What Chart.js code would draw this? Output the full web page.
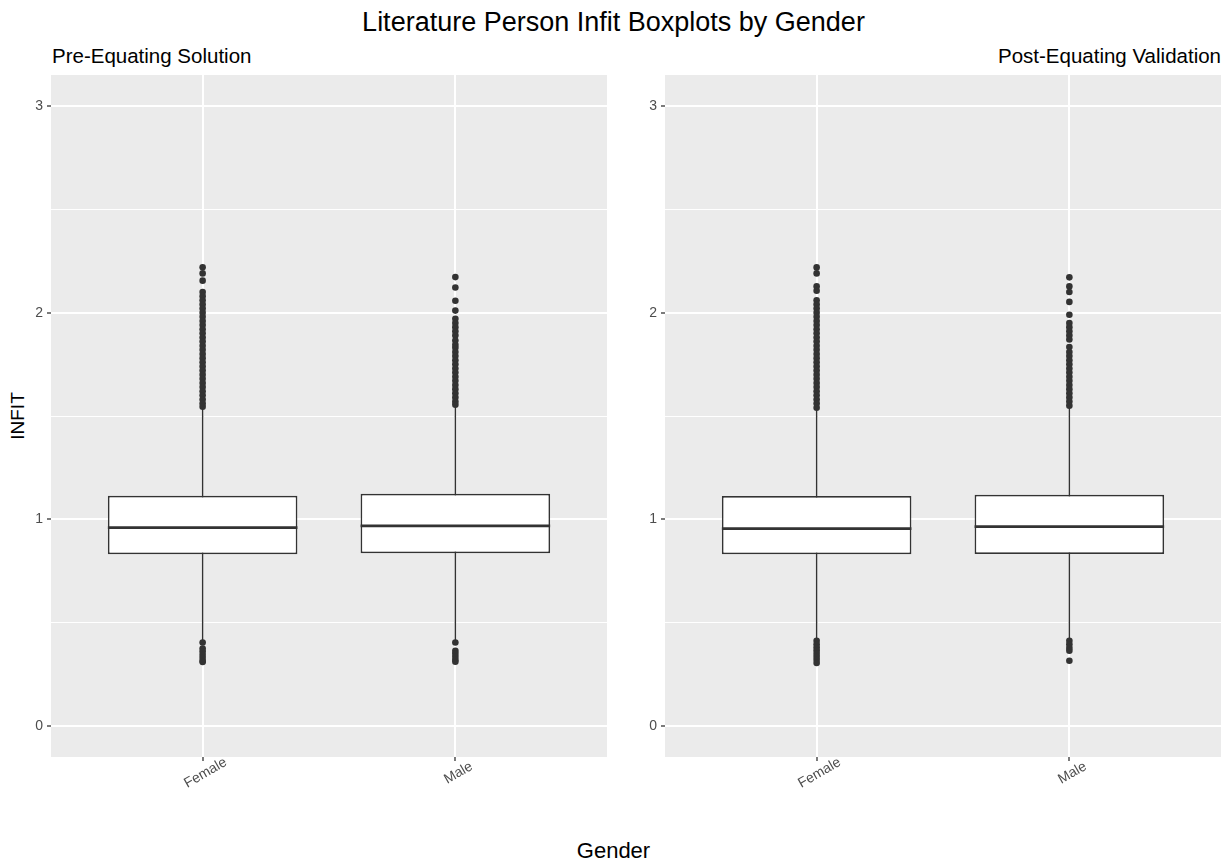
<!DOCTYPE html>
<html>
<head>
<meta charset="utf-8">
<script src="https://cdn.jsdelivr.net/npm/chart.js@4.4.1/dist/chart.umd.min.js"></script>
<style>
    html, body { margin: 0; padding: 0; background: #FFFFFF; }
    body { width: 1227px; height: 867px; position: relative; overflow: hidden; font-family: 'Liberation Sans', Arial, sans-serif; }
    .txt { position: absolute; white-space: nowrap; line-height: 1; color: #000000; }
    #main-title { top: 9px; left: 0; width: 1227px; text-align: center; font-size: 27px; }
    #sub-left { top: 46px; left: 52px; font-size: 20.5px; }
    #sub-right { top: 46px; right: 6px; font-size: 20.5px; }
    #y-title { left: 17px; top: 416px; font-size: 19px; transform: translate(-50%, -50%) rotate(-90deg); }
    #x-title { top: 840px; left: 0; width: 1227px; text-align: center; font-size: 22px; }
    .panel { position: absolute; top: 65px; }
</style>
</head>
<body>
<div class="txt" id="main-title">Literature Person Infit Boxplots by Gender</div>
<div class="txt" id="sub-left"></div>
<div class="txt" id="sub-right"></div>
<div class="txt" id="y-title">INFIT</div>
<div class="txt" id="x-title">Gender</div>
<canvas class="panel" id="panel-pre" width="612" height="745" style="left:0px"></canvas>
<canvas class="panel" id="panel-post" width="612" height="745" style="left:614px"></canvas>

<script>
// Data
const categories = ['Female', 'Male'];
const panelTitles = ['Pre-Equating Solution', 'Post-Equating Validation'];
const yTickLabels = [0, 1, 2, 3];

// Pre-Equating Solution
const preQ1 = [0.831, 0.836];
const preMedian = [0.960, 0.968];
const preQ3 = [1.114, 1.124];
const preWhiskerLow = [0.415, 0.415];
const preWhiskerHigh = [1.535, 1.547];
const preOutliersFemale = [2.22, 2.19, 2.155, 2.10, 2.08, 2.06, 2.04, 2.02, 2.00, 1.98, 1.96, 1.94, 1.92, 1.90,
    1.88, 1.86, 1.84, 1.82, 1.80, 1.78, 1.76, 1.74, 1.72, 1.70, 1.68, 1.66, 1.64, 1.62, 1.60, 1.58, 1.56, 1.545,
    0.404, 0.375, 0.36, 0.345, 0.33, 0.315, 0.31];
const preOutliersMale = [2.172, 2.122, 2.058, 2.010, 1.97, 1.95, 1.93, 1.91, 1.89, 1.865, 1.845, 1.83, 1.81,
    1.79, 1.77, 1.75, 1.73, 1.71, 1.69, 1.67, 1.65, 1.63, 1.61, 1.59, 1.57, 1.555,
    0.404, 0.364, 0.35, 0.335, 0.32, 0.311];

// Post-Equating Validation
const postQ1 = [0.831, 0.832];
const postMedian = [0.955, 0.965];
const postQ3 = [1.113, 1.119];
const postWhiskerLow = [0.42, 0.42];
const postWhiskerHigh = [1.53, 1.54];
const postOutliersFemale = [2.219, 2.19, 2.127, 2.106, 2.06, 2.04, 2.02, 2.00, 1.98, 1.96, 1.94, 1.92, 1.90,
    1.88, 1.86, 1.84, 1.82, 1.80, 1.78, 1.76, 1.74, 1.72, 1.70, 1.68, 1.66, 1.64, 1.62, 1.60, 1.58, 1.56, 1.54,
    0.412, 0.395, 0.38, 0.365, 0.35, 0.335, 0.32, 0.305];
const postOutliersMale = [2.171, 2.127, 2.100, 2.052, 1.990, 1.95, 1.93, 1.91, 1.89, 1.87,
    1.834, 1.81, 1.79, 1.77, 1.75, 1.73, 1.71, 1.69, 1.67, 1.65, 1.63, 1.61, 1.59, 1.57, 1.55,
    0.412, 0.395, 0.378, 0.364, 0.316];

const BOX_WIDTH = 0.75;          // ggplot default box width (category units)
const INK = '#333333';
const FONT = 'Liberation Sans';

document.getElementById('sub-left').textContent = panelTitles[0];
document.getElementById('sub-right').textContent = panelTitles[1];

// Grey panel background under the grid
const panelBackground = {
    id: 'panelBackground',
    beforeDraw(chart) {
        const { ctx, chartArea } = chart;
        ctx.save();
        ctx.fillStyle = '#EBEBEB';
        ctx.fillRect(chartArea.left, chartArea.top, chartArea.right - chartArea.left, chartArea.bottom - chartArea.top);
        ctx.restore();
    }
};

// Rotated (30 deg) category labels, centred on their tick like ggplot
const rotatedLabels = {
    id: 'rotatedLabels',
    afterDraw(chart) {
        const { ctx, chartArea } = chart;
        const xScale = chart.scales.x;
        ctx.save();
        ctx.fillStyle = '#4D4D4D';
        ctx.font = `14px "${FONT}"`;
        ctx.textAlign = 'center';
        ctx.textBaseline = 'middle';
        xScale.ticks.forEach(tick => {
            const label = categories[tick.value - 1];
            if (!label) return;
            const px = xScale.getPixelForValue(tick.value);
            ctx.save();
            ctx.translate(px + 3, chartArea.bottom + 16);
            ctx.rotate(-Math.PI / 6);
            ctx.fillText(label, 0, 0);
            ctx.restore();
        });
        ctx.restore();
    }
};

function buildPanel(canvasId, q1, median, q3, lo, hi, outliers) {
    const whiskers = [];
    const medians = [];
    const boxes = [];
    const points = [];
    categories.forEach((c, i) => {
        const x = i + 1;
        whiskers.push({ x: x, y: lo[i] }, { x: x, y: hi[i] }, { x: x + 0.5, y: null });
        medians.push({ x: x - BOX_WIDTH / 2, y: median[i] }, { x: x + BOX_WIDTH / 2, y: median[i] }, { x: x + 0.5, y: null });
        boxes.push({ x: x, y: [q1[i], q3[i]] });
        outliers[i].forEach(v => points.push({ x: x, y: v }));
    });

    const ctx = document.getElementById(canvasId).getContext('2d');
    return new Chart(ctx, {
        type: 'bar',
        data: {
            datasets: [
                {
                    type: 'line',
                    data: whiskers,
                    borderColor: INK,
                    borderWidth: 1.4,
                    pointRadius: 0,
                    spanGaps: false,
                    order: 3
                },
                {
                    type: 'bar',
                    data: boxes,
                    backgroundColor: '#FFFFFF',
                    borderColor: INK,
                    borderWidth: 1.7,
                    borderSkipped: false,
                    grouped: false,
                    categoryPercentage: 1,
                    barPercentage: BOX_WIDTH,
                    order: 2
                },
                {
                    type: 'line',
                    data: medians,
                    borderColor: INK,
                    borderWidth: 2.8,
                    pointRadius: 0,
                    spanGaps: false,
                    order: 1
                },
                {
                    type: 'scatter',
                    data: points,
                    pointRadius: 3.3,
                    pointBackgroundColor: INK,
                    pointBorderWidth: 0,
                    order: 0
                }
            ]
        },
        options: {
            responsive: false,
            animation: false,
            events: [],
            layout: { padding: { top: 10, right: 5, left: 0, bottom: 0 } },
            plugins: {
                legend: { display: false },
                tooltip: { enabled: false }
            },
            scales: {
                x: {
                    type: 'linear',
                    min: 0.4,
                    max: 2.6,
                    offset: false,
                    border: { display: false },
                    grid: {
                        offset: false,
                        color: '#FFFFFF',
                        lineWidth: 2,
                        drawTicks: true,
                        tickLength: 4,
                        tickColor: INK,
                        tickWidth: 1.3
                    },
                    ticks: { stepSize: 1, includeBounds: false, display: false },
                    afterFit: s => { s.height = 53; s.paddingLeft = 0; s.paddingRight = 0; }
                },
                y: {
                    type: 'linear',
                    min: -0.15,
                    max: 3.15,
                    border: { display: false },
                    grid: {
                        color: '#FFFFFF',
                        lineWidth: c => yTickLabels.includes(c.tick.value) ? 2 : 1,
                        drawTicks: true,
                        tickLength: 4,
                        tickColor: c => yTickLabels.includes(c.tick.value) ? INK : 'rgba(0,0,0,0)',
                        tickWidth: 1.3
                    },
                    ticks: {
                        stepSize: 0.5,
                        includeBounds: false,
                        padding: 4,
                        color: '#4D4D4D',
                        font: { family: FONT, size: 14 },
                        callback: v => yTickLabels.includes(v) ? String(v) : ''
                    },
                    afterFit: s => { s.width = 51; s.paddingTop = 0; s.paddingBottom = 0; }
                }
            }
        },
        plugins: [panelBackground, rotatedLabels]
    });
}

document.addEventListener('DOMContentLoaded', () => {
    buildPanel('panel-pre', preQ1, preMedian, preQ3, preWhiskerLow, preWhiskerHigh,
        [preOutliersFemale, preOutliersMale]);
    buildPanel('panel-post', postQ1, postMedian, postQ3, postWhiskerLow, postWhiskerHigh,
        [postOutliersFemale, postOutliersMale]);
});
</script>
</body>
</html>
